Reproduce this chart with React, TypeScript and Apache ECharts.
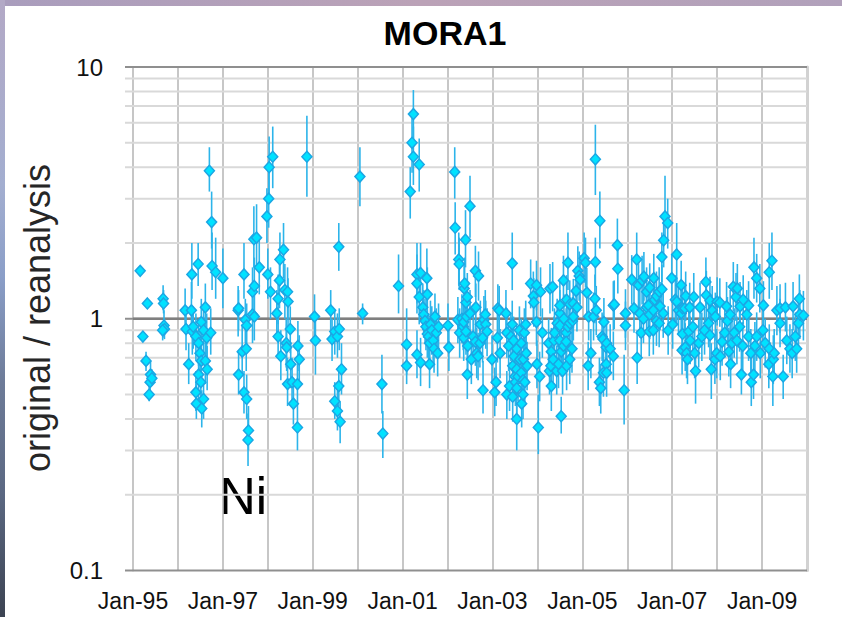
import React, { useEffect, useRef } from 'react';
import * as echarts from 'echarts';

const chartTitle = 'MORA1';
const yAxisName = 'original / reanalysis';
const elementLabel = 'Ni';
const yearMin = 1995;
const yearMax = 2010;
const minorLevels = [0.2, 0.3, 0.4, 0.5, 0.6, 0.7, 0.8, 0.9, 2, 3, 4, 5, 6, 7, 8, 9];
const majorLevels = [0.1, 10];
const refLevel = 1;

// [decimal year, ratio, lower bound, upper bound]
const ni1995 = [
  [1995.16, 1.55, 1.55, 1.55], [1995.22, 0.85, 0.85, 0.85], [1995.32, 1.15, 1.15, 1.15],
  [1995.29, 0.68, 0.62, 0.74], [1995.39, 0.6, 0.55, 0.68], [1995.38, 0.56, 0.52, 0.62],
  [1995.36, 0.5, 0.47, 0.54], [1995.42, 0.58, 0.54, 0.63], [1995.67, 1.2, 1.08, 1.36],
  [1995.68, 1.15, 1.05, 1.3], [1995.69, 0.94, 0.84, 1.08], [1995.7, 0.91, 0.83, 1.0],
  [1995.66, 0.9, 0.82, 0.97],
];
const ni1996 = [
  [1996.16, 1.08, 0.88, 1.32], [1996.18, 0.91, 0.75, 1.1], [1996.24, 0.66, 0.55, 0.8],
  [1996.3, 1.08, 0.85, 1.4], [1996.31, 1.5, 1.2, 2.0], [1996.32, 0.89, 0.72, 1.08],
  [1996.34, 0.93, 0.76, 1.12], [1996.4, 0.85, 0.68, 1.05], [1996.4, 0.51, 0.43, 0.62],
  [1996.41, 0.46, 0.4, 0.55], [1996.45, 1.65, 1.35, 2.0], [1996.46, 0.8, 0.65, 0.98],
  [1996.46, 0.6, 0.48, 0.72], [1996.49, 0.73, 0.58, 0.9], [1996.51, 0.56, 0.45, 0.7],
  [1996.52, 0.68, 0.55, 0.85], [1996.53, 0.44, 0.37, 0.52], [1996.52, 0.97, 0.78, 1.2],
  [1996.57, 0.48, 0.4, 0.56], [1996.57, 0.9, 0.72, 1.12], [1996.61, 1.11, 0.9, 1.38],
  [1996.61, 0.68, 0.55, 0.84], [1996.64, 0.84, 0.7, 1.05], [1996.65, 0.63, 0.52, 0.78],
  [1996.7, 3.87, 3.2, 4.8], [1996.73, 0.88, 0.72, 1.1], [1996.75, 2.42, 1.9, 3.2],
  [1996.76, 1.62, 1.3, 2.2], [1996.84, 1.53, 1.2, 2.1], [1997.0, 1.45, 1.1, 1.9],
];
const ni1997 = [
  [1997.34, 1.08, 0.85, 1.35], [1997.35, 1.1, 0.9, 1.3], [1997.35, 0.6, 0.5, 0.75],
  [1997.43, 0.74, 0.6, 0.95], [1997.47, 1.5, 1.2, 2.0], [1997.47, 0.51, 0.42, 0.62],
  [1997.5, 0.99, 0.8, 1.2], [1997.52, 0.76, 0.62, 0.95], [1997.53, 0.94, 0.75, 1.15],
  [1997.53, 0.48, 0.4, 0.6], [1997.56, 0.33, 0.26, 0.42], [1997.57, 0.36, 0.3, 0.45],
  [1997.66, 1.28, 1.0, 1.6], [1997.66, 1.04, 0.8, 1.3], [1997.69, 2.07, 1.6, 2.8],
  [1997.7, 1.35, 1.05, 1.75], [1997.7, 1.02, 0.82, 1.25], [1997.75, 2.1, 1.6, 2.85],
  [1997.81, 1.6, 1.25, 2.1], [1997.98, 2.55, 2.0, 3.3],
];
const ni1998 = [
  [1998.0, 1.5, 1.2, 1.9], [1998.02, 3.0, 2.3, 3.9], [1998.03, 4.0, 3.0, 5.3],
  [1998.06, 1.28, 1.0, 1.6], [1998.11, 4.4, 3.3, 5.8], [1998.2, 1.05, 0.85, 1.3],
  [1998.23, 1.2, 0.95, 1.5], [1998.23, 0.85, 0.7, 1.05], [1998.26, 1.42, 1.1, 1.8],
  [1998.27, 1.72, 1.35, 2.2], [1998.29, 0.71, 0.57, 0.9], [1998.35, 1.88, 1.45, 2.4],
  [1998.38, 1.3, 1.0, 1.65], [1998.41, 0.8, 0.64, 1.0], [1998.42, 0.77, 0.62, 0.95],
  [1998.44, 1.28, 1.0, 1.6], [1998.44, 0.55, 0.45, 0.7], [1998.45, 1.17, 0.92, 1.45],
  [1998.5, 0.91, 0.73, 1.12], [1998.51, 0.66, 0.53, 0.8], [1998.54, 0.56, 0.45, 0.7],
  [1998.57, 0.46, 0.38, 0.56], [1998.66, 0.55, 0.45, 0.68], [1998.66, 0.37, 0.3, 0.45],
  [1998.67, 0.78, 0.62, 0.98], [1998.7, 0.69, 0.56, 0.86], [1998.87, 4.4, 3.05, 6.4],
];
const ni1999 = [
  [1999.04, 1.02, 0.85, 1.25], [1999.06, 0.82, 0.6, 1.05], [1999.4, 1.08, 0.85, 1.3],
  [1999.43, 0.83, 0.68, 1.0], [1999.49, 0.89, 0.72, 1.08], [1999.49, 0.47, 0.4, 0.56],
  [1999.55, 0.85, 0.7, 1.05], [1999.55, 0.43, 0.36, 0.52], [1999.58, 1.93, 1.55, 2.4],
  [1999.58, 0.54, 0.45, 0.65], [1999.59, 0.91, 0.75, 1.1], [1999.61, 0.39, 0.32, 0.47],
  [1999.64, 0.63, 0.5, 0.8],
];
const ni2000 = [
  [2000.05, 3.67, 2.8, 4.8], [2000.11, 1.05, 0.95, 1.15], [2000.54, 0.55, 0.42, 0.72],
  [2000.56, 0.35, 0.28, 0.43], [2000.91, 1.35, 1.05, 1.8],
];
const ni2001 = [
  [2001.09, 0.79, 0.6, 1.1], [2001.09, 0.65, 0.55, 0.78], [2001.17, 3.2, 2.5, 4.0],
  [2001.21, 5.0, 3.8, 6.4], [2001.24, 6.5, 5.0, 8.1], [2001.24, 4.4, 3.4, 5.8],
  [2001.32, 1.5, 1.15, 2.0], [2001.32, 1.38, 1.05, 1.8], [2001.32, 0.72, 0.58, 0.9],
  [2001.37, 4.1, 3.2, 5.2], [2001.37, 1.22, 0.95, 1.55], [2001.4, 1.52, 1.2, 2.0],
  [2001.4, 0.67, 0.54, 0.84], [2001.45, 1.11, 0.9, 1.38], [2001.47, 1.04, 0.84, 1.3],
  [2001.5, 0.98, 0.8, 1.2], [2001.52, 0.93, 0.75, 1.15], [2001.54, 1.45, 1.1, 1.9],
  [2001.55, 1.25, 0.98, 1.6], [2001.55, 0.87, 0.7, 1.08], [2001.58, 0.85, 0.68, 1.05],
  [2001.6, 0.66, 0.53, 0.82], [2001.6, 0.8, 0.64, 1.0], [2001.62, 0.95, 0.76, 1.18],
  [2001.65, 0.9, 0.72, 1.12], [2001.68, 0.82, 0.66, 1.02], [2001.7, 0.76, 0.61, 0.95],
  [2001.72, 1.02, 0.82, 1.26], [2001.75, 0.88, 0.7, 1.1], [2001.78, 0.73, 0.59, 0.9],
  [2001.8, 0.93, 0.75, 1.15],
];
const ni2002 = [
  [2002.01, 0.94, 0.75, 1.15], [2002.03, 0.77, 0.62, 0.95], [2002.16, 3.83, 3.0, 4.8],
  [2002.17, 2.3, 1.8, 2.9], [2002.23, 0.99, 0.8, 1.22], [2002.25, 1.72, 1.35, 2.2],
  [2002.26, 1.65, 1.3, 2.1], [2002.27, 0.88, 0.7, 1.1], [2002.32, 1.0, 0.8, 1.25],
  [2002.35, 0.93, 0.75, 1.15], [2002.36, 0.97, 0.78, 1.2], [2002.36, 0.84, 0.68, 1.05],
  [2002.37, 1.32, 1.05, 1.65], [2002.38, 1.38, 1.1, 1.75], [2002.4, 2.06, 1.6, 2.7],
  [2002.41, 0.89, 0.72, 1.1], [2002.41, 1.16, 0.92, 1.45], [2002.42, 1.02, 0.82, 1.27],
  [2002.44, 1.22, 0.97, 1.52], [2002.44, 0.6, 0.48, 0.75], [2002.45, 0.78, 0.63, 0.97],
  [2002.5, 2.8, 2.1, 3.7], [2002.5, 1.05, 0.84, 1.3], [2002.53, 0.69, 0.55, 0.86],
  [2002.57, 0.85, 0.68, 1.06], [2002.62, 1.55, 1.22, 1.95], [2002.62, 0.81, 0.65, 1.0],
  [2002.63, 1.11, 0.88, 1.38], [2002.65, 0.73, 0.58, 0.92], [2002.68, 0.71, 0.57, 0.88],
  [2002.69, 1.48, 1.18, 1.85], [2002.72, 0.8, 0.64, 1.0], [2002.73, 0.95, 0.76, 1.18],
  [2002.78, 0.84, 0.67, 1.05], [2002.79, 0.52, 0.42, 0.68], [2002.81, 0.99, 0.8, 1.23],
  [2002.84, 1.04, 0.83, 1.3], [2002.85, 0.95, 0.76, 1.18], [2002.88, 0.89, 0.71, 1.1],
  [2002.99, 0.69, 0.55, 0.86],
];
const ni2003 = [
  [2003.05, 0.51, 0.41, 0.64], [2003.08, 0.56, 0.45, 0.7], [2003.11, 0.84, 0.67, 1.05],
  [2003.12, 1.1, 0.88, 1.37], [2003.15, 1.08, 0.86, 1.35], [2003.17, 0.73, 0.58, 0.91],
  [2003.3, 1.05, 0.84, 1.3], [2003.32, 0.88, 0.7, 1.1], [2003.32, 0.5, 0.4, 0.62],
  [2003.36, 0.78, 0.62, 0.97], [2003.38, 0.54, 0.43, 0.67], [2003.41, 0.85, 0.68, 1.06],
  [2003.44, 1.66, 1.3, 2.2], [2003.44, 0.95, 0.76, 1.18], [2003.45, 0.65, 0.52, 0.81],
  [2003.45, 0.49, 0.39, 0.61], [2003.47, 0.82, 0.66, 1.02], [2003.48, 0.71, 0.57, 0.88],
  [2003.5, 0.59, 0.47, 0.74], [2003.51, 0.56, 0.45, 0.7], [2003.54, 0.76, 0.61, 0.95],
  [2003.54, 0.63, 0.5, 0.79], [2003.54, 0.53, 0.42, 0.66], [2003.54, 0.4, 0.3, 0.45],
  [2003.57, 0.59, 0.47, 0.74], [2003.6, 0.9, 0.72, 1.12], [2003.61, 0.69, 0.55, 0.86],
  [2003.64, 0.8, 0.64, 1.0], [2003.64, 0.61, 0.49, 0.76], [2003.65, 0.46, 0.37, 0.58],
  [2003.68, 0.57, 0.46, 0.71], [2003.68, 0.5, 0.4, 0.63], [2003.69, 0.69, 0.55, 0.86],
  [2003.71, 0.88, 0.7, 1.1], [2003.72, 0.56, 0.45, 0.7], [2003.74, 0.95, 0.76, 1.18],
  [2003.75, 0.73, 0.58, 0.91], [2003.77, 0.65, 0.52, 0.81], [2003.85, 1.38, 1.1, 1.72],
  [2003.91, 1.23, 0.98, 1.54], [2003.92, 1.16, 0.93, 1.45], [2003.98, 1.36, 1.08, 1.7],
  [2003.98, 0.97, 0.78, 1.2], [2003.99, 0.66, 0.53, 0.82],
];
const ni2004 = [
  [2004.02, 0.37, 0.29, 0.5], [2004.05, 0.59, 0.47, 0.74], [2004.07, 1.28, 1.02, 1.6],
  [2004.11, 0.88, 0.7, 1.1], [2004.25, 0.8, 0.64, 1.0], [2004.27, 0.62, 0.5, 0.78],
  [2004.28, 1.32, 1.05, 1.65], [2004.3, 0.65, 0.52, 0.81], [2004.31, 0.74, 0.59, 0.92],
  [2004.31, 0.54, 0.43, 0.68], [2004.34, 1.34, 1.07, 1.68], [2004.35, 0.69, 0.55, 0.86],
  [2004.37, 0.82, 0.66, 1.02], [2004.38, 0.88, 0.7, 1.1], [2004.43, 0.62, 0.5, 0.78],
  [2004.44, 0.96, 0.77, 1.2], [2004.47, 0.66, 0.53, 0.82], [2004.5, 0.82, 0.66, 1.02],
  [2004.5, 0.94, 0.75, 1.17], [2004.5, 1.05, 0.84, 1.3], [2004.5, 1.13, 0.9, 1.41],
  [2004.53, 0.74, 0.59, 0.92], [2004.53, 0.41, 0.35, 0.49], [2004.56, 0.62, 0.5, 0.78],
  [2004.58, 0.78, 0.62, 0.97], [2004.58, 1.42, 1.13, 1.78], [2004.59, 1.0, 0.8, 1.25],
  [2004.64, 0.88, 0.7, 1.1], [2004.64, 0.81, 0.65, 1.01], [2004.65, 0.65, 0.52, 0.81],
  [2004.65, 1.19, 0.95, 1.49], [2004.68, 0.93, 0.74, 1.16], [2004.68, 1.67, 1.3, 2.2],
  [2004.72, 0.96, 0.77, 1.2], [2004.72, 0.69, 0.55, 0.86], [2004.72, 1.14, 0.91, 1.42],
  [2004.77, 0.76, 0.61, 0.95], [2004.78, 0.98, 0.78, 1.22], [2004.8, 1.02, 0.82, 1.27],
  [2004.8, 1.15, 0.92, 1.44], [2004.86, 1.29, 1.03, 1.61], [2004.88, 1.11, 0.89, 1.39],
  [2004.9, 1.55, 1.24, 1.94], [2004.93, 1.48, 1.18, 1.85], [2004.95, 1.43, 1.14, 1.79],
];
const ni2005 = [
  [2005.04, 1.74, 1.39, 2.2], [2005.07, 1.67, 1.33, 2.1], [2005.1, 1.27, 1.01, 1.59],
  [2005.13, 0.65, 0.52, 0.81], [2005.14, 1.02, 0.82, 1.27], [2005.19, 0.73, 0.58, 0.91],
  [2005.25, 1.02, 0.82, 1.27], [2005.28, 1.2, 0.96, 1.5], [2005.29, 1.68, 1.34, 2.1],
  [2005.29, 4.3, 3.1, 5.9], [2005.31, 1.08, 0.86, 1.35], [2005.38, 0.56, 0.45, 0.7],
  [2005.39, 2.45, 1.9, 3.2], [2005.41, 0.53, 0.42, 0.66], [2005.44, 0.85, 0.68, 1.06],
  [2005.46, 0.83, 0.66, 1.04], [2005.47, 0.61, 0.49, 0.76], [2005.48, 0.97, 0.78, 1.21],
  [2005.53, 0.77, 0.62, 0.96], [2005.53, 0.66, 0.53, 0.82], [2005.54, 0.8, 0.64, 1.0],
  [2005.54, 0.61, 0.49, 0.76], [2005.62, 0.76, 0.61, 0.95], [2005.69, 0.71, 0.57, 0.89],
  [2005.69, 1.13, 0.9, 1.41], [2005.71, 1.14, 0.91, 1.42], [2005.78, 1.96, 1.5, 2.5],
  [2005.79, 1.58, 1.26, 1.98], [2005.93, 0.52, 0.38, 0.72], [2005.96, 1.05, 0.84, 1.31],
  [2005.96, 0.94, 0.75, 1.17],
];
const ni2006 = [
  [2006.1, 1.43, 1.14, 1.79], [2006.15, 1.1, 0.88, 1.37], [2006.21, 1.72, 1.3, 2.2],
  [2006.22, 0.7, 0.55, 0.9], [2006.25, 1.36, 1.09, 1.7], [2006.28, 1.05, 0.84, 1.31],
  [2006.31, 0.88, 0.7, 1.1], [2006.33, 1.42, 1.14, 1.78], [2006.36, 1.0, 0.8, 1.25],
  [2006.37, 1.47, 1.18, 1.84], [2006.43, 1.28, 1.02, 1.6], [2006.43, 1.11, 0.89, 1.39],
  [2006.47, 1.13, 0.9, 1.41], [2006.49, 0.89, 0.71, 1.11], [2006.5, 1.33, 1.06, 1.66],
  [2006.5, 1.04, 0.83, 1.3], [2006.58, 1.08, 0.86, 1.35], [2006.58, 0.9, 0.72, 1.12],
  [2006.59, 1.45, 1.16, 1.81], [2006.61, 1.19, 0.95, 1.49], [2006.65, 1.23, 0.98, 1.54],
  [2006.65, 0.98, 0.78, 1.22], [2006.71, 1.28, 1.02, 1.6], [2006.71, 0.96, 0.77, 1.2],
  [2006.73, 1.12, 0.9, 1.4], [2006.77, 1.31, 1.05, 1.64], [2006.77, 1.76, 1.4, 2.2],
  [2006.8, 1.05, 0.84, 1.31], [2006.81, 2.05, 1.6, 2.6], [2006.84, 2.55, 2.0, 3.7],
  [2006.9, 2.4, 1.9, 3.0], [2006.91, 0.9, 0.72, 1.12], [2006.99, 1.45, 1.16, 1.81],
];
const ni2007 = [
  [2007.01, 0.95, 0.76, 1.19], [2007.07, 1.19, 0.95, 1.49], [2007.1, 1.17, 0.94, 1.46],
  [2007.1, 1.8, 1.4, 2.4], [2007.14, 1.08, 0.86, 1.35], [2007.2, 1.05, 0.84, 1.31],
  [2007.2, 1.36, 1.09, 1.7], [2007.22, 0.75, 0.6, 0.94], [2007.23, 0.87, 0.7, 1.09],
  [2007.23, 1.1, 0.88, 1.37], [2007.28, 1.1, 0.88, 1.37], [2007.29, 0.77, 0.62, 0.96],
  [2007.3, 1.23, 0.98, 1.54], [2007.32, 0.73, 0.58, 0.91], [2007.34, 0.69, 0.55, 0.86],
  [2007.37, 0.89, 0.71, 1.11], [2007.39, 1.11, 0.89, 1.39], [2007.4, 0.82, 0.66, 1.02],
  [2007.46, 0.93, 0.74, 1.16], [2007.48, 1.22, 0.98, 1.52], [2007.5, 0.73, 0.58, 0.91],
  [2007.52, 0.62, 0.46, 0.78], [2007.59, 0.8, 0.64, 1.0], [2007.62, 1.11, 0.89, 1.39],
  [2007.66, 0.85, 0.68, 1.06], [2007.72, 0.9, 0.72, 1.12], [2007.75, 1.4, 1.12, 1.75],
  [2007.76, 1.24, 0.99, 1.55], [2007.81, 0.96, 0.77, 1.2], [2007.84, 1.18, 0.94, 1.47],
  [2007.84, 0.86, 0.69, 1.07], [2007.87, 0.63, 0.48, 0.8], [2007.89, 1.08, 0.86, 1.35],
  [2007.95, 0.69, 0.55, 0.86], [2007.96, 1.02, 0.82, 1.27], [2007.99, 0.73, 0.58, 0.91],
  [2008.0, 1.17, 0.94, 1.46],
];
const ni2008 = [
  [2008.06, 1.16, 0.93, 1.45], [2008.07, 0.71, 0.57, 0.89], [2008.11, 0.81, 0.65, 1.01],
  [2008.17, 0.88, 0.7, 1.1], [2008.21, 1.12, 0.9, 1.4], [2008.23, 0.98, 0.78, 1.22],
  [2008.26, 0.74, 0.59, 0.92], [2008.29, 1.04, 0.83, 1.3], [2008.3, 0.66, 0.53, 0.82],
  [2008.33, 0.8, 0.64, 1.0], [2008.36, 1.34, 1.07, 1.68], [2008.38, 0.88, 0.7, 1.1],
  [2008.42, 1.22, 0.98, 1.52], [2008.44, 0.82, 0.66, 1.02], [2008.45, 1.32, 1.06, 1.65],
  [2008.5, 0.93, 0.74, 1.16], [2008.51, 1.12, 0.9, 1.4], [2008.54, 0.6, 0.5, 0.75],
  [2008.57, 0.78, 0.62, 0.97], [2008.58, 1.19, 0.95, 1.49], [2008.66, 1.04, 0.83, 1.3],
  [2008.7, 0.85, 0.68, 1.06], [2008.7, 1.13, 0.9, 1.41], [2008.75, 0.73, 0.58, 0.91],
  [2008.76, 0.56, 0.45, 0.7], [2008.81, 0.6, 0.48, 0.75], [2008.82, 1.6, 1.2, 2.1],
  [2008.84, 0.78, 0.62, 0.97], [2008.88, 0.85, 0.68, 1.06], [2008.88, 1.45, 1.16, 1.81],
  [2008.95, 1.32, 1.06, 1.65], [2008.96, 0.73, 0.58, 0.91],
];
const ni2009 = [
  [2009.02, 0.9, 0.72, 1.12], [2009.03, 1.13, 0.9, 1.41], [2009.07, 0.8, 0.64, 1.0],
  [2009.15, 0.66, 0.53, 0.82], [2009.16, 0.76, 0.61, 0.95], [2009.16, 1.53, 1.2, 2.0],
  [2009.22, 1.7, 1.3, 2.2], [2009.24, 0.59, 0.45, 0.72], [2009.25, 0.69, 0.55, 0.86],
  [2009.27, 0.73, 0.58, 0.91], [2009.33, 1.08, 0.86, 1.35], [2009.4, 0.96, 0.77, 1.2],
  [2009.4, 1.1, 0.88, 1.37], [2009.47, 0.59, 0.48, 0.72], [2009.52, 1.11, 0.89, 1.39],
  [2009.55, 0.82, 0.66, 1.02], [2009.62, 0.76, 0.61, 0.95], [2009.67, 0.73, 0.58, 0.91],
  [2009.69, 1.12, 0.9, 1.4], [2009.74, 0.85, 0.68, 1.06], [2009.77, 0.76, 0.61, 0.95],
  [2009.81, 0.96, 0.77, 1.2], [2009.83, 1.2, 0.96, 1.5], [2009.84, 1.04, 0.83, 1.3],
  [2009.92, 1.03, 0.82, 1.29],
];

const allPoints = [
  ...ni1995, ...ni1996, ...ni1997, ...ni1998, ...ni1999, ...ni2000, ...ni2001,
  ...ni2002, ...ni2003, ...ni2004, ...ni2005, ...ni2006, ...ni2007, ...ni2008, ...ni2009,
];

const SANS = '"Liberation Sans", Arial, sans-serif';

function levelLine(color: string, width: number) {
  return (params: any, api: any) => {
    const cs = params.coordSys;
    const y = api.coord([api.value(0), api.value(1)])[1];
    return {
      type: 'line',
      silent: true,
      shape: { x1: cs.x - 8, y1: y, x2: cs.x + cs.width, y2: y },
      style: { stroke: color, lineWidth: width },
    };
  };
}

export default function App() {
  const ref = useRef<HTMLDivElement>(null);
  useEffect(() => {
    if (!ref.current) return;
    const chart = echarts.init(ref.current, null, { renderer: 'svg' });
    const option: any = {
      animation: false,
      backgroundColor: '#ffffff',
      grid: { left: 133, right: 35, top: 67, bottom: 46.5, containLabel: false },
      xAxis: {
        type: 'value',
        min: yearMin,
        max: yearMax,
        interval: 1,
        axisLine: { show: false },
        axisTick: { show: false },
        splitLine: { show: true, lineStyle: { color: '#b5b5b5', width: 1.5 } },
        axisLabel: {
          show: true,
          margin: 19,
          fontFamily: SANS,
          fontSize: 23,
          color: '#111',
          showMinLabel: true,
          showMaxLabel: true,
          formatter: (v: number) =>
            Math.round(v) % 2 === 1 ? 'Jan-' + String(Math.round(v) % 100).padStart(2, '0') : '',
        },
      },
      yAxis: [
        {
          type: 'log',
          logBase: 10,
          min: 0.1,
          max: 10,
          axisLine: { show: true, lineStyle: { color: '#c6c6c6', width: 2 } },
          axisTick: { show: false },
          splitLine: { show: false },
          axisLabel: {
            margin: 30,
            fontFamily: SANS,
            fontSize: 24,
            color: '#111',
            formatter: (v: number) => (v < 1 ? v.toFixed(1) : String(Math.round(v))),
          },
        },
        {
          type: 'log',
          logBase: 10,
          min: 0.1,
          max: 10,
          position: 'right',
          axisLine: { show: true, lineStyle: { color: '#d2d2d2', width: 3 } },
          axisTick: { show: false },
          splitLine: { show: false },
          axisLabel: { show: false },
        },
      ],
      graphic: [
        {
          type: 'rect',
          shape: { x: 0, y: 0, width: 842, height: 6 },
          style: {
            fill: new echarts.graphic.LinearGradient(0, 0, 1, 0, [
              { offset: 0, color: '#a99dbd' },
              { offset: 0.5, color: '#bba2b7' },
              { offset: 1, color: '#b1a1bb' },
            ]),
          },
          silent: true,
        },
        {
          type: 'rect',
          shape: { x: 0, y: 0, width: 5, height: 617 },
          style: {
            fill: new echarts.graphic.LinearGradient(0, 0, 0, 1, [
              { offset: 0, color: '#b3a9c6' },
              { offset: 0.3, color: '#a3aed0' },
              { offset: 0.45, color: '#8a9ec8' },
              { offset: 0.62, color: '#6d7b98' },
              { offset: 0.8, color: '#5b6882' },
              { offset: 1, color: '#3c4352' },
            ]),
          },
          silent: true,
        },
        {
          type: 'text',
          x: 445,
          y: 16,
          style: {
            text: chartTitle,
            font: 'bold 34px ' + SANS,
            fill: '#000',
            align: 'center',
            verticalAlign: 'top',
          },
        },
        {
          type: 'text',
          x: 37,
          y: 318,
          rotation: Math.PI / 2,
          style: {
            text: yAxisName,
            font: '36px ' + SANS,
            fill: '#262626',
            align: 'center',
            verticalAlign: 'middle',
          },
        },
        {
          type: 'text',
          x: 219,
          y: 471,
          style: {
            text: elementLabel,
            font: '51px ' + SANS,
            fill: '#000',
            align: 'left',
            verticalAlign: 'top',
          },
        },
      ],
      series: [
        {
          type: 'custom',
          name: 'minor',
          z: 1,
          silent: true,
          clip: false,
          data: minorLevels.map((v) => [yearMin, v]),
          renderItem: levelLine('#d9d9d9', 2),
        },
        {
          type: 'custom',
          name: 'major',
          z: 1,
          silent: true,
          clip: false,
          data: majorLevels.map((v) => [yearMin, v]),
          renderItem: levelLine('#8f8f8f', 2),
        },
        {
          type: 'custom',
          name: 'refTick',
          z: 1,
          silent: true,
          clip: false,
          data: [[yearMin, refLevel]],
          renderItem: levelLine('#8f8f8f', 2),
        },
        {
          type: 'line',
          name: 'ref',
          z: 3,
          silent: true,
          symbol: 'none',
          data: [
            [yearMin, refLevel],
            [yearMax, refLevel],
          ],
          lineStyle: { color: '#7f7f7f', width: 2.5 },
        },
        {
          type: 'custom',
          name: 'errorbars',
          z: 4,
          silent: true,
          data: allPoints.map((p) => [p[0], p[1], p[2], p[3]]),
          encode: { x: 0, y: 1 },
          renderItem: (params: any, api: any) => {
            const t = api.value(0);
            const lo = api.value(2);
            const hi = api.value(3);
            if (!(hi > lo)) return { type: 'group', children: [] };
            const a = api.coord([t, lo]);
            const b = api.coord([t, hi]);
            return {
              type: 'line',
              shape: { x1: a[0], y1: a[1], x2: b[0], y2: b[1] },
              style: { stroke: '#2cb4ea', lineWidth: 1.6 },
            };
          },
        },
        {
          type: 'scatter',
          name: 'Ni',
          z: 5,
          symbol: 'diamond',
          symbolSize: [10, 11],
          data: allPoints.map((p) => [p[0], p[1]]),
          itemStyle: { color: '#00e2ff', borderColor: '#1ba7e4', borderWidth: 1.5, opacity: 1 },
        },
      ],
    };
    chart.setOption(option);
    return () => chart.dispose();
  }, []);
  return (
    <div
      ref={ref}
      style={{ position: 'fixed', left: 0, top: 0, width: 842, height: 617, background: '#fff' }}
    />
  );
}
